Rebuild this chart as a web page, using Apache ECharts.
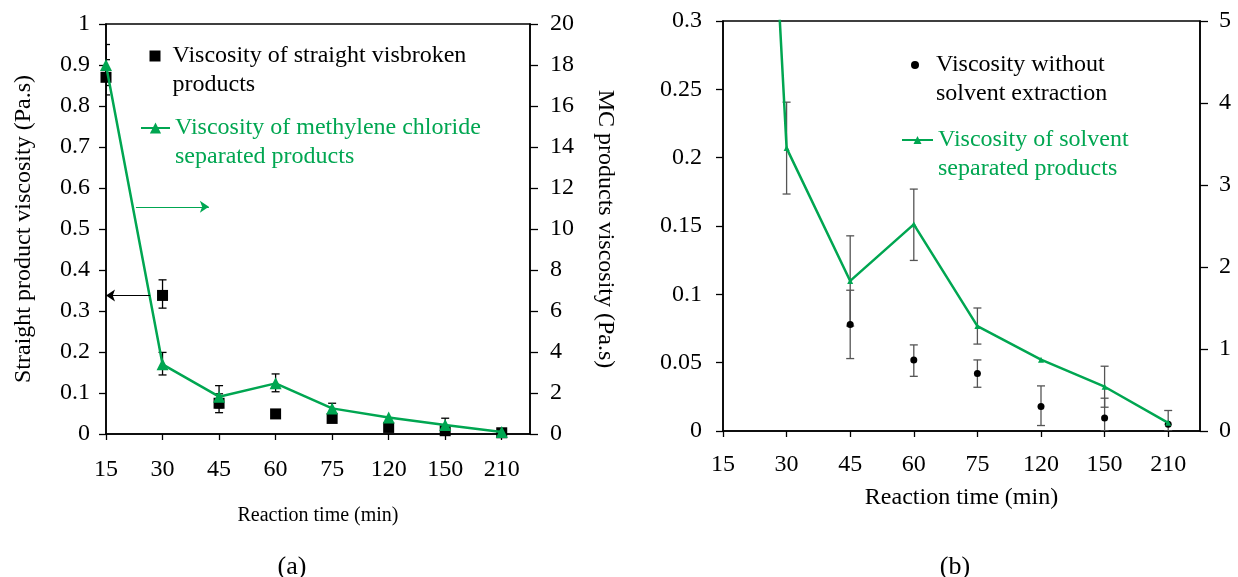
<!DOCTYPE html>
<html><head><meta charset="utf-8">
<script src="https://cdn.jsdelivr.net/npm/echarts@6/dist/echarts.min.js"></script>
<style>html,body{margin:0;padding:0;background:#fff}#c{width:1238px;height:577px}</style>
</head><body><div id="c"></div>
<script>
// ---------- data ----------
const categories = ['15', '30', '45', '60', '75', '120', '150', '210'];

// chart (a)
const aStraight     = [0.87, 0.338, 0.075, 0.049, 0.038, 0.016, 0.008, 0.003];
const aStraightLow  = [0.827, 0.307, 0.052, null, null, null, null, null];
const aStraightHigh = [0.913, 0.376, 0.098, null, null, null, null, null];
const aMC           = [18, 3.4, 1.82, 2.47, 1.25, 0.81, 0.44, 0.1];
const aMCLow        = [17, 2.88, 1.28, 2.06, 1.0, null, 0.11, null];
const aMCHigh       = [19, 3.98, 2.36, 2.93, 1.5, null, 0.77, null];

// chart (b)
const bWithout      = [0.87, 0.338, 0.078, 0.052, 0.042, 0.018, 0.0095, 0.005];
const bWithoutLow   = [null, null, 0.053, 0.040, 0.032, 0.004, 0, null];
const bWithoutHigh  = [null, null, 0.103, 0.063, 0.052, 0.033, 0.024, null];
const bSolvent      = [18, 3.45, 1.83, 2.52, 1.28, 0.87, 0.54, 0.10];
const bSolventLow   = [null, 2.89, 1.28, 2.08, 1.06, null, 0.29, 0];
const bSolventHigh  = [null, 4.01, 2.38, 2.95, 1.50, null, 0.79, 0.25];

// series names / legend lines
const nameA1 = ['Viscosity of straight visbroken', 'products'];
const nameA2 = ['Viscosity of methylene chloride', 'separated products'];
const nameB1 = ['Viscosity without', 'solvent extraction'];
const nameB2 = ['Viscosity of solvent', 'separated products'];

// annotation arrows (data units)
const arrowBlack = [[0.78, 0.338], [0, 0.338]];        // left axis units
const arrowGreen = [[0.53, 11.08], [1.82, 11.08]];     // right axis units

// ---------- helpers ----------
const FONT = 'Liberation Serif';
const GREEN = '#00a651';
const tickIdx = categories.map((c, i) => i);

function pts(vals) { return vals.map((v, i) => [i, v]); }
function errBars(xi, yi, lows, highs, color, cap) {
  const data = [];
  lows.forEach((lo, i) => { if (lo != null && highs[i] != null) data.push([i, lo, highs[i]]); });
  return {
    type: 'custom', xAxisIndex: xi, yAxisIndex: yi, data, clip: true, silent: true, z: 1,
    encode: { x: 0, y: [1, 2] },
    renderItem(params, api) {
      const x = api.value(0);
      const p1 = api.coord([x, api.value(1)]), p2 = api.coord([x, api.value(2)]);
      const st = { stroke: color, lineWidth: 1.3 };
      return { type: 'group', children: [
        { type: 'line', shape: { x1: p1[0], y1: p1[1], x2: p2[0], y2: p2[1] }, style: st },
        { type: 'line', shape: { x1: p1[0] - cap, y1: p1[1], x2: p1[0] + cap, y2: p1[1] }, style: st },
        { type: 'line', shape: { x1: p2[0] - cap, y1: p2[1], x2: p2[0] + cap, y2: p2[1] }, style: st }
      ] };
    }
  };
}
function xAxis(gi, name, nameSize, nameGap, margin) {
  return {
    type: 'value', gridIndex: gi, min: 0, max: 7.5, interval: 1,
    name, nameLocation: 'middle', nameGap,
    nameTextStyle: { fontFamily: FONT, fontSize: nameSize, color: '#000' },
    axisLine: { lineStyle: { color: '#000', width: 1.5 } },
    axisTick: { show: true, length: 6, inside: false, customValues: tickIdx, lineStyle: { color: '#000', width: 1.3 } },
    axisLabel: { customValues: tickIdx, margin, fontFamily: FONT, fontSize: 24, color: '#000',
      formatter: v => categories[Math.round(v)] },
    splitLine: { show: false }
  };
}
function yAxis(gi, pos, min, max, interval, margin, name, rot, gap) {
  return {
    type: 'value', gridIndex: gi, position: pos, min, max, interval,
    name: name || '', nameLocation: 'middle', nameGap: gap || 0, nameRotate: rot,
    nameTextStyle: { fontFamily: FONT, fontSize: 24, color: '#000' },
    axisLine: { show: true, lineStyle: { color: '#000', width: 1.5 } },
    axisTick: { show: true, length: pos === 'left' ? 7 : 8, inside: false, lineStyle: { color: '#000', width: 1.3 } },
    axisLabel: { margin, fontFamily: FONT, fontSize: 24, color: '#000' },
    splitLine: { show: false }
  };
}
function legend(name, left, top, w, h, color, padLeft) {
  return {
    data: [name[0] + ' ' + name[1]], left, top, padding: 0,
    itemWidth: w, itemHeight: h, selectedMode: false,
    formatter: () => '\n' + name[0] + '\n' + name[1],
    textStyle: { fontFamily: FONT, fontSize: 24, color, lineHeight: 29, padding: [0, 0, 0, padLeft] }
  };
}

const chart = echarts.init(document.getElementById('c'), null, { renderer: 'canvas' });
chart.setOption({
  animation: false,
  backgroundColor: '#fff',
  title: [
    { text: '(a)', left: 287, top: 549, textAlign: 'center', textStyle: { fontFamily: FONT, fontSize: 26, fontWeight: 'normal', color: '#000' } },
    { text: '(b)', left: 950, top: 549, textAlign: 'center', textStyle: { fontFamily: FONT, fontSize: 26, fontWeight: 'normal', color: '#000' } }
  ],
  grid: [
    { left: 106, top: 24, width: 424, height: 410, show: true, borderColor: '#000', borderWidth: 1.5, backgroundColor: 'transparent' },
    { left: 723, top: 21, width: 477, height: 410, show: true, borderColor: '#000', borderWidth: 1.5, backgroundColor: 'transparent' }
  ],
  xAxis: [
    xAxis(0, 'Reaction time (min)', 20, 72, 24),
    xAxis(1, 'Reaction time (min)', 24, 55, 22)
  ],
  yAxis: [
    yAxis(0, 'left', 0, 1, 0.1, 16, 'Straight product viscosity (Pa.s)', 90, 70),
    yAxis(0, 'right', 0, 20, 2, 20, 'MC products viscosity (Pa.s)', -90, 63),
    yAxis(1, 'left', 0, 0.3, 0.05, 21),
    yAxis(1, 'right', 0, 5, 1, 19)
  ],
  legend: [
    legend(nameA1, 149.5, 12.5, 11, 11, '#000', 7),
    legend(nameA2, 140, 84.5, 29, 14, GREEN, 0),
    legend(nameB1, 911, 21.5, 8, 8, '#000', 12),
    legend(nameB2, 901, 96.5, 31, 10, GREEN, 0)
  ],
  series: [
    errBars(0, 0, aStraightLow, aStraightHigh, '#000', 4),
    errBars(0, 1, aMCLow, aMCHigh, '#000', 4),
    {
      name: nameA1.join(' '), type: 'scatter', xAxisIndex: 0, yAxisIndex: 0, z: 2,
      data: pts(aStraight), symbol: 'rect', symbolSize: 11, itemStyle: { color: '#000', opacity: 1 },
      markLine: { silent: true, symbol: ['none', 'arrow'], symbolSize: 9, label: { show: false },
        lineStyle: { color: '#000', width: 1.2, type: 'solid' },
        data: [[{ coord: arrowBlack[0] }, { coord: arrowBlack[1] }]] }
    },
    {
      name: nameA2.join(' '), type: 'line', xAxisIndex: 0, yAxisIndex: 1, z: 3,
      data: pts(aMC), symbol: 'triangle', symbolSize: 12,
      itemStyle: { color: GREEN }, lineStyle: { color: GREEN, width: 2.5 },
      markLine: { silent: true, symbol: ['none', 'arrow'], symbolSize: 9, label: { show: false },
        lineStyle: { color: GREEN, width: 1.2, type: 'solid' },
        data: [[{ coord: arrowGreen[0] }, { coord: arrowGreen[1] }]] }
    },
    errBars(1, 2, bWithoutLow, bWithoutHigh, '#555', 4),
    errBars(1, 3, bSolventLow, bSolventHigh, '#555', 4),
    {
      name: nameB1.join(' '), type: 'scatter', xAxisIndex: 1, yAxisIndex: 2, z: 2,
      data: pts(bWithout), symbol: 'circle', symbolSize: 7, itemStyle: { color: '#000', opacity: 1 }
    },
    {
      name: nameB2.join(' '), type: 'line', xAxisIndex: 1, yAxisIndex: 3, z: 3,
      data: pts(bSolvent), symbol: 'triangle', symbolSize: 6, showAllSymbol: true,
      itemStyle: { color: GREEN }, lineStyle: { color: GREEN, width: 2.5 }
    }
  ]
});
</script></body></html>
